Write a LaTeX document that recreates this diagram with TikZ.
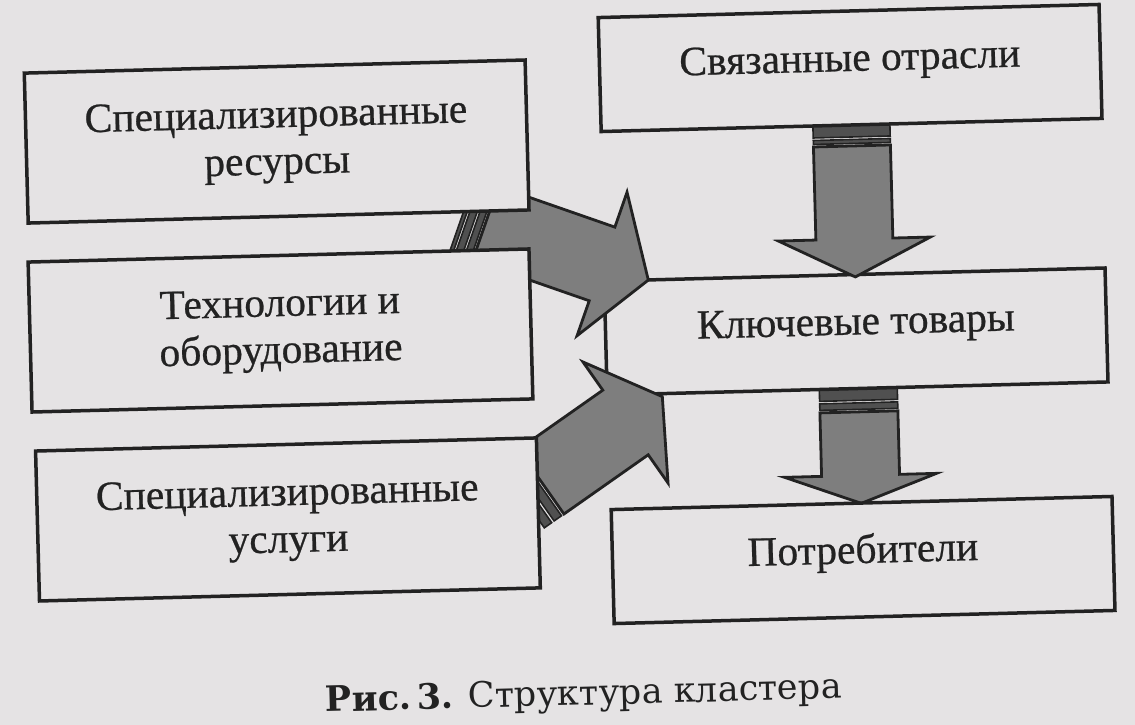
\documentclass[tikz,border=0pt]{standalone}
\usepackage{fontspec}
\newfontfamily\boxfont[FakeBold=0.6]{Liberation Serif}
\newfontfamily\capfont{DejaVu Serif}
\definecolor{paper}{RGB}{229,227,228}
\definecolor{ink}{RGB}{34,34,34}
\definecolor{shade}{RGB}{126,126,126}
\definecolor{darkshade}{RGB}{80,80,80}
\tikzset{
  box/.style={draw=ink, line width=3.5pt, fill=paper, inner sep=0pt, align=center, text=ink,
    font=\boxfont\fontsize{41.5}{47}\selectfont, minimum width=501pt},
  leftbox/.style={box, minimum height=150pt},
  rightbox/.style={box, minimum height=114pt, text height=28pt, text depth=22pt},
  blockarrow/.style={draw=ink, line width=2.8pt, fill=shade, line join=miter},
  stripebar/.style={draw=ink, line width=1.6pt, fill=darkshade},
}
\begin{document}
\begin{tikzpicture}[x=1pt,y=-1pt]
\fill[paper] (0,0) rectangle (1135,725);
\useasboundingbox (0,0) rectangle (1135,725);
\begin{scope}[rotate around={1.5:(567,362)}, transform shape]
  % arrow: key goods -> consumers (tail behind key goods)
  \coordinate (a4) at (857.5,483);
  \begin{scope}[shift={(857.5,483)}]
    \draw[stripebar] (-39,-98) rectangle (39,-75);
    \draw[stripebar] (-39,-72.5) rectangle (39,-66);
    \draw[blockarrow] (-39,-63.5) -- (-39,0) -- (-76,0) -- (0,28) -- (76,0) -- (39,0) -- (39,-63.5) -- cycle;
  \end{scope}
  % key goods box
  \node[rightbox] (kt) at (856.8,339.1) {Ключевые товары};
  % arrow: resources/technology -> key goods
  \coordinate (a1) at (604.6,264.9);
  \begin{scope}[shift={(604.6,264.9)}, rotate=-20.7]
    \draw[stripebar] (-148,-39) rectangle (-144.5,39);
    \draw[stripebar] (-142,-39) rectangle (-135,39);
    \draw[stripebar] (-132.5,-39) rectangle (-126,39);
    \draw[blockarrow] (-123.5,-39) -- (0,-39) -- (0,-76) -- (49,0) -- (0,76) -- (0,39) -- (-123.5,39) -- cycle;
  \end{scope}
  % arrow: services -> key goods
  \coordinate (a2) at (623.9,424);
  \begin{scope}[shift={(623.9,424)}, rotate=33.6]
    \draw[stripebar] (-127,-39.5) rectangle (-118,39.5);
    \draw[stripebar] (-115,-39.5) rectangle (-106,39.5);
    \draw[blockarrow] (-103,-39.5) -- (0,-39.5) -- (0,-74) -- (45,0) -- (0,74) -- (0,39.5) -- (-103,39.5) -- cycle;
  \end{scope}
  % arrow: related industries -> key goods
  \coordinate (a3) at (857.5,246.6);
  \begin{scope}[shift={(857.5,246.6)}]
    \draw[stripebar] (-38.5,-126.6) rectangle (38.5,-102.1);
    \draw[stripebar] (-38.5,-99.6) rectangle (38.5,-95.6);
    \draw[blockarrow] (-38.5,-93.1) -- (-38.5,0) -- (-76,0) -- (0,37.9) -- (76,0) -- (38.5,0) -- (38.5,-93.1) -- cycle;
  \end{scope}
  % left column
  \node[leftbox] (sr) at (282.5,134) {Специализированные\\ресурсы};
  \node[leftbox] (to) at (281.4,323) {Технологии и\\оборудование};
  \node[leftbox] (su) at (283.9,512.1) {Специализированные\\услуги};
  % right column
  \node[rightbox] (so) at (857.7,75.5) {Связанные отрасли};
  \node[rightbox] (pt) at (857.8,567.7) {Потребители};
  % caption
  \node[anchor=base, text=ink, inner sep=0pt, font=\capfont\fontsize{35}{40}\selectfont] (cap) at (575,705.3)
    {\textbf{Рис.\,3.} Структура кластера};
\end{scope}
\end{tikzpicture}
\end{document}
